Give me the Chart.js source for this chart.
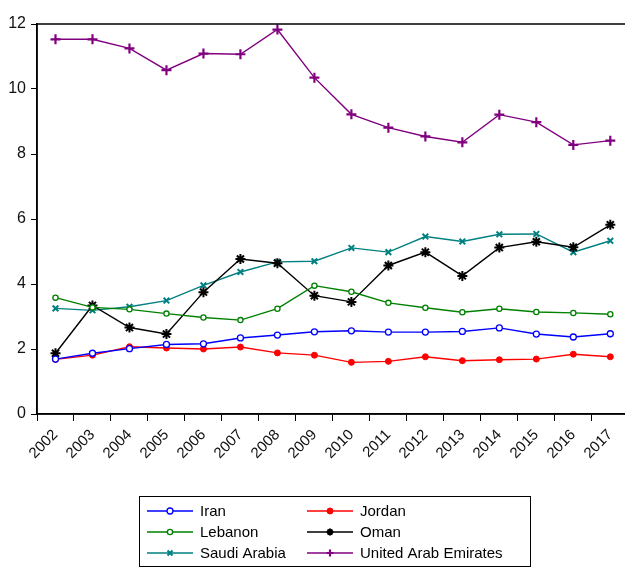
<!DOCTYPE html>
<html>
<head>
<meta charset="utf-8">
<style>
  html, body { margin: 0; padding: 0; background: #fff; overflow: hidden; }
  #wrap { width: 636px; height: 569px; }
</style>
</head>
<body>
<div id="wrap">
  <canvas id="trend" width="636" height="569"></canvas>
</div>

<script src="https://cdn.jsdelivr.net/npm/chart.js"></script>

<script>
  const years = ['2002', '2003', '2004', '2005', '2006', '2007', '2008', '2009',
                 '2010', '2011', '2012', '2013', '2014', '2015', '2016', '2017'];

  const iran    = [1.69, 1.87, 2.01, 2.14, 2.16, 2.34, 2.43, 2.53, 2.56, 2.52, 2.52, 2.54, 2.65, 2.46, 2.37, 2.47];
  const jordan  = [1.68, 1.81, 2.07, 2.03, 2.00, 2.06, 1.88, 1.81, 1.59, 1.62, 1.76, 1.64, 1.67, 1.69, 1.84, 1.76];
  const lebanon = [3.58, 3.28, 3.22, 3.09, 2.97, 2.89, 3.24, 3.95, 3.76, 3.42, 3.27, 3.13, 3.24, 3.14, 3.11, 3.07];
  const oman    = [1.87, 3.34, 2.66, 2.46, 3.75, 4.77, 4.64, 3.64, 3.45, 4.57, 4.98, 4.25, 5.12, 5.30, 5.13, 5.82];
  const saudi   = [3.25, 3.19, 3.30, 3.49, 3.96, 4.37, 4.68, 4.70, 5.11, 4.98, 5.46, 5.31, 5.53, 5.54, 4.98, 5.33];
  const uae     = [11.53, 11.53, 11.25, 10.58, 11.09, 11.07, 11.83, 10.35, 9.22, 8.81, 8.54, 8.36, 9.21, 8.98, 8.28, 8.41];

  const yTicks = [0, 2, 4, 6, 8, 10, 12];

  function series(label, data, color, style, radius, fill, width) {
    return {
      label: label,
      data: data,
      borderColor: color,
      backgroundColor: fill,
      borderWidth: 1.4,
      pointStyle: style,
      pointRadius: radius,
      pointBorderColor: color,
      pointBackgroundColor: fill,
      pointBorderWidth: width,
      tension: 0
    };
  }

  // framed plot area plus the two-column legend box underneath
  const frameAndLegend = {
    id: 'frameAndLegend',
    afterDraw(chart) {
      const c = chart.ctx;
      const a = chart.chartArea;
      c.save();
      c.strokeStyle = '#000';
      c.lineWidth = 1.5;
      c.strokeRect(a.left, a.top, a.right - a.left, a.bottom - a.top);

      const box = { x: 139, y: 496, w: 391, h: 70 };
      c.lineWidth = 1;
      c.strokeRect(box.x + 0.5, box.y + 0.5, box.w, box.h);

      const cols = [147, 307];
      const rows = [511, 532, 553];
      c.font = '15px "Liberation Sans", Arial, sans-serif';
      c.textBaseline = 'middle';
      chart.data.datasets.forEach((ds, i) => {
        const x = cols[i % 2];
        const y = rows[Math.floor(i / 2)];
        c.strokeStyle = ds.borderColor;
        c.lineWidth = 1.4;
        c.beginPath();
        c.moveTo(x, y);
        c.lineTo(x + 46, y);
        c.stroke();
        c.fillStyle = ds.pointBackgroundColor;
        c.strokeStyle = ds.pointBorderColor;
        c.lineWidth = ds.pointBorderWidth;
        Chart.helpers.drawPoint(c, {
          pointStyle: ds.pointStyle,
          radius: Math.min(ds.pointRadius, 3.5),
          rotation: 0,
          borderWidth: ds.pointBorderWidth
        }, x + 23, y);
        c.fillStyle = '#000';
        c.fillText(ds.label, x + 53, y + 1);
      });
      c.restore();
    }
  };

  new Chart(document.getElementById('trend'), {
    type: 'line',
    data: {
      labels: years,
      datasets: [
        series('Iran', iran, '#0000ff', 'circle', 3, '#ffffff', 1.3),
        series('Jordan', jordan, '#ff0000', 'circle', 3, '#ff0000', 1),
        series('Lebanon', lebanon, '#008000', 'circle', 2.6, '#ffffff', 1.3),
        series('Oman', oman, '#000000', 'star', 5, '#000000', 2),
        series('Saudi Arabia', saudi, '#008080', 'crossRot', 4, '#008080', 2),
        series('United Arab Emirates', uae, '#800080', 'cross', 5, '#800080', 2.2)
      ]
    },
    options: {
      responsive: false,
      animation: false,
      layout: { padding: { top: 24, right: 2, left: 0, bottom: 0 } },
      plugins: {
        legend: { display: false },
        tooltip: { enabled: false }
      },
      scales: {
        x: {
          offset: true,
          grid: {
            display: true,
            offset: true,
            drawOnChartArea: false,
            drawTicks: true,
            tickLength: 7,
            color: '#000',
            lineWidth: 1
          },
          border: { display: true, color: '#000', width: 1.5 },
          ticks: {
            minRotation: 45,
            maxRotation: 45,
            autoSkip: false,
            color: '#111',
            padding: 5,
            font: { family: '"Liberation Sans", Arial, sans-serif', size: 15 }
          },
          afterFit(scale) { scale.height = 155; }
        },
        y: {
          min: 0,
          max: 12,
          afterBuildTicks(scale) { scale.ticks = yTicks.map(v => ({ value: v })); },
          grid: {
            display: true,
            drawOnChartArea: false,
            drawTicks: true,
            tickLength: 6,
            color: '#000',
            lineWidth: 1
          },
          border: { display: true, color: '#000', width: 1.5 },
          ticks: {
            color: '#111',
            padding: 5,
            font: { family: '"Liberation Sans", Arial, sans-serif', size: 16 }
          },
          afterFit(scale) { scale.width = 37; }
        }
      }
    },
    plugins: [frameAndLegend]
  });
</script>
</body>
</html>
